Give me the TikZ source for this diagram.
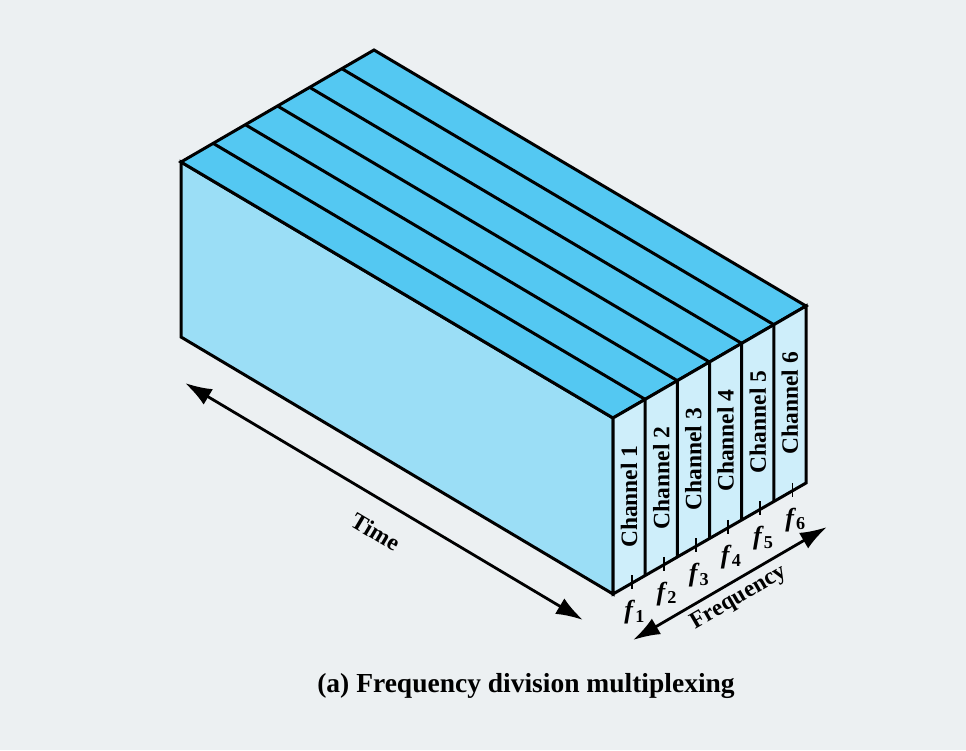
\documentclass[tikz,border=0pt]{standalone}
\usepackage{fontspec}
\setmainfont{Liberation Serif}
\usetikzlibrary{calc,arrows.meta}
\definecolor{bgcol}{RGB}{236,240,242}
\definecolor{topcol}{RGB}{84,200,242}
\definecolor{sidecol}{RGB}{155,222,246}
\definecolor{endcol}{RGB}{206,238,250}

\begin{document}
\begin{tikzpicture}[x=1pt,y=-1pt]
		\tikzstyle{edge}=[draw=black, line width=3pt]
		\tikzstyle{axis}=[line width=2.8pt, {Latex[length=27pt,width=18pt]}-{Latex[length=27pt,width=18pt]}]
		\tikzstyle{lbl}=[font=\fontsize{23.5}{25}\selectfont\bfseries, inner sep=0pt]
		\fill[bgcol] (0,0) rectangle (966,750);
		\useasboundingbox (0,0) rectangle (966,750);
		\coordinate (A) at (181,162);
		\coordinate (B) at (181,337);
		\coordinate (C) at (613,418);
		\coordinate (D) at (613,594);
		\coordinate (E) at (806,306);
		\coordinate (F) at (806,483);
		\coordinate (G) at (374,50);
		\filldraw[edge, fill=sidecol] (A) -- (C) -- (D) -- (B) -- cycle;
		\filldraw[edge, fill=topcol] (A) -- (C) -- (E) -- (G) -- cycle;
		\filldraw[edge, fill=endcol] (C) -- (E) -- (F) -- (D) -- cycle;
		\foreach \i in {1,...,5}
			\draw[edge] ($(A)!\i/6!(G)$) -- ($(C)!\i/6!(E)$) -- ($(D)!\i/6!(F)$);
		\foreach \i in {1,...,6}{
			\node[lbl, rotate=90] (ch\i) at ($(C)!{(\i-0.5)/6}!(E)+(0,88)$) {Channel \i};
			\coordinate (t\i) at ($(D)!{(\i-0.42)/6}!(F)$);
			\draw[line width=1.8pt] ($(t\i)+(0,-8)$) -- ($(t\i)+(0,6)$);
			\node[lbl, font=\fontsize{26}{28}\selectfont\bfseries] (f\i) at ($(t\i)+(3,29)$) {\textit{f}\textsubscript{\i}};
		}
		\coordinate (tA) at (185,383);
		\coordinate (tB) at (583,620);
		\draw[axis] (tA) -- (tB);
		\node[lbl] (time) at (376,532) [rotate=-30.8] {Time};
		\coordinate (fA) at (633,640);
		\coordinate (fB) at (827,527);
		\draw[axis] (fA) -- (fB);
		\node[lbl] (freq) at (739,598) [rotate=30.2] {Frequency};
		\node[font=\fontsize{27.5}{30}\selectfont\bfseries] (cap) at (526,686) {(a) Frequency division multiplexing};
\end{tikzpicture}
\end{document}
